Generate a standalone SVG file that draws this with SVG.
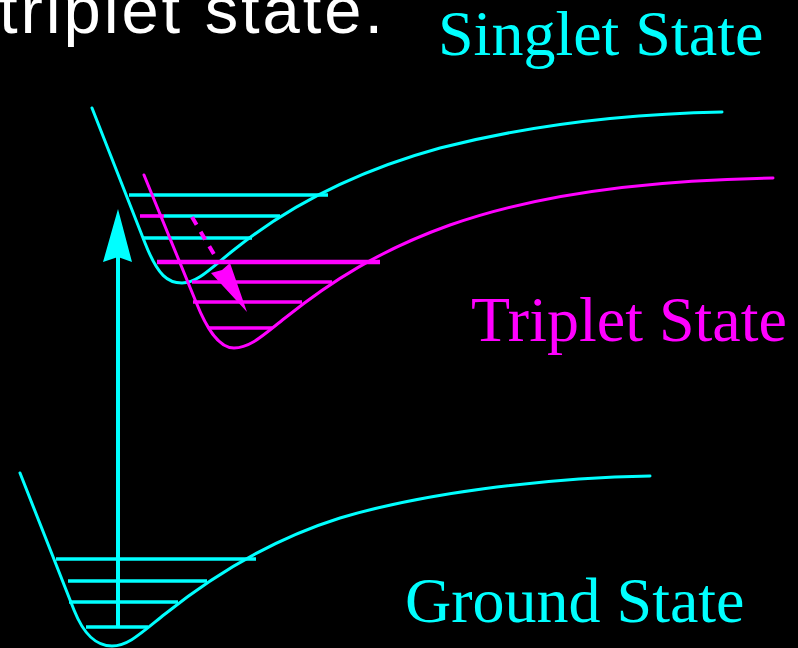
<svg xmlns="http://www.w3.org/2000/svg" width="798" height="648" viewBox="0 0 798 648">
<style>
.bg{fill:#000}
.cy{stroke:#00FFFF;fill:none}
.mg{stroke:#FF00FF;fill:none}
.curve{stroke-width:3;stroke-linecap:round;stroke-linejoin:round}
.lvl{stroke-width:3.6}
.lbl{font-family:"Liberation Serif","Times New Roman",serif;font-size:64px}
.title{font-family:"Liberation Sans",Arial,sans-serif;font-size:67px;fill:#fff}
</style>
<rect class="bg" x="0" y="0" width="798" height="648"/>
<text class="title" x="-1" y="33" textLength="384" lengthAdjust="spacing">triplet state.</text>

<g id="singlet">
<path class="cy curve" d="M92,108 L145,243 C158,276 168,283 182,283 C198,283 212,267 235,249 C290,205 360,170 440,148 C530,125 620,114 722,112"/>
<line class="cy lvl" x1="129" y1="195" x2="328" y2="195"/>
<line class="cy lvl" x1="164" y1="216" x2="280" y2="216"/>
<line class="mg lvl" x1="140" y1="216" x2="164" y2="216"/>
<line class="cy lvl" x1="142" y1="238" x2="252" y2="238"/>
<text class="lbl" x="438" y="55" fill="#00FFFF">Singlet State</text>
</g>

<g id="triplet">
<path class="mg curve" d="M144,175 L196,302 C206,327 218,348 234,348 C250,348 262,336 285,318 C330,282 380,250 450,225 C540,193 650,180 773,178"/>
<line class="mg" stroke-width="4.5" x1="157" y1="262" x2="380" y2="262"/>
<line class="mg lvl" x1="192" y1="282" x2="332" y2="282"/>
<line class="mg lvl" x1="193" y1="302" x2="302" y2="302"/>
<line class="mg lvl" x1="209" y1="328" x2="272" y2="328"/>
<text class="lbl" x="471" y="341" fill="#FF00FF">Triplet State</text>
</g>

<g id="ground">
<path class="cy curve" d="M20,473 L74,610 C84,635 96,646 112,646 C128,646 140,634 165,614 C210,578 270,540 340,518 C420,494 540,478 650,476"/>
<line class="cy lvl" x1="56" y1="559" x2="256" y2="559"/>
<line class="cy lvl" x1="68" y1="581" x2="207" y2="581"/>
<line class="cy lvl" x1="69" y1="602" x2="178" y2="602"/>
<line class="cy lvl" x1="86" y1="627" x2="148" y2="627"/>
<text class="lbl" x="405" y="622" fill="#00FFFF">Ground State</text>
</g>

<g id="connectors">
<g id="excitation">
<line class="cy" stroke-width="4" x1="118" y1="627" x2="118" y2="255"/>
<polygon fill="#00FFFF" points="118,209 132,262 118,257 103,262"/>
</g>
<g id="isc">
<line class="mg" stroke-width="4" stroke-dasharray="9,8" x1="192" y1="217" x2="215" y2="256"/>
<polygon fill="#FF00FF" points="247,312 211,273 222,270 230,263"/>
</g>
</g>
</svg>
